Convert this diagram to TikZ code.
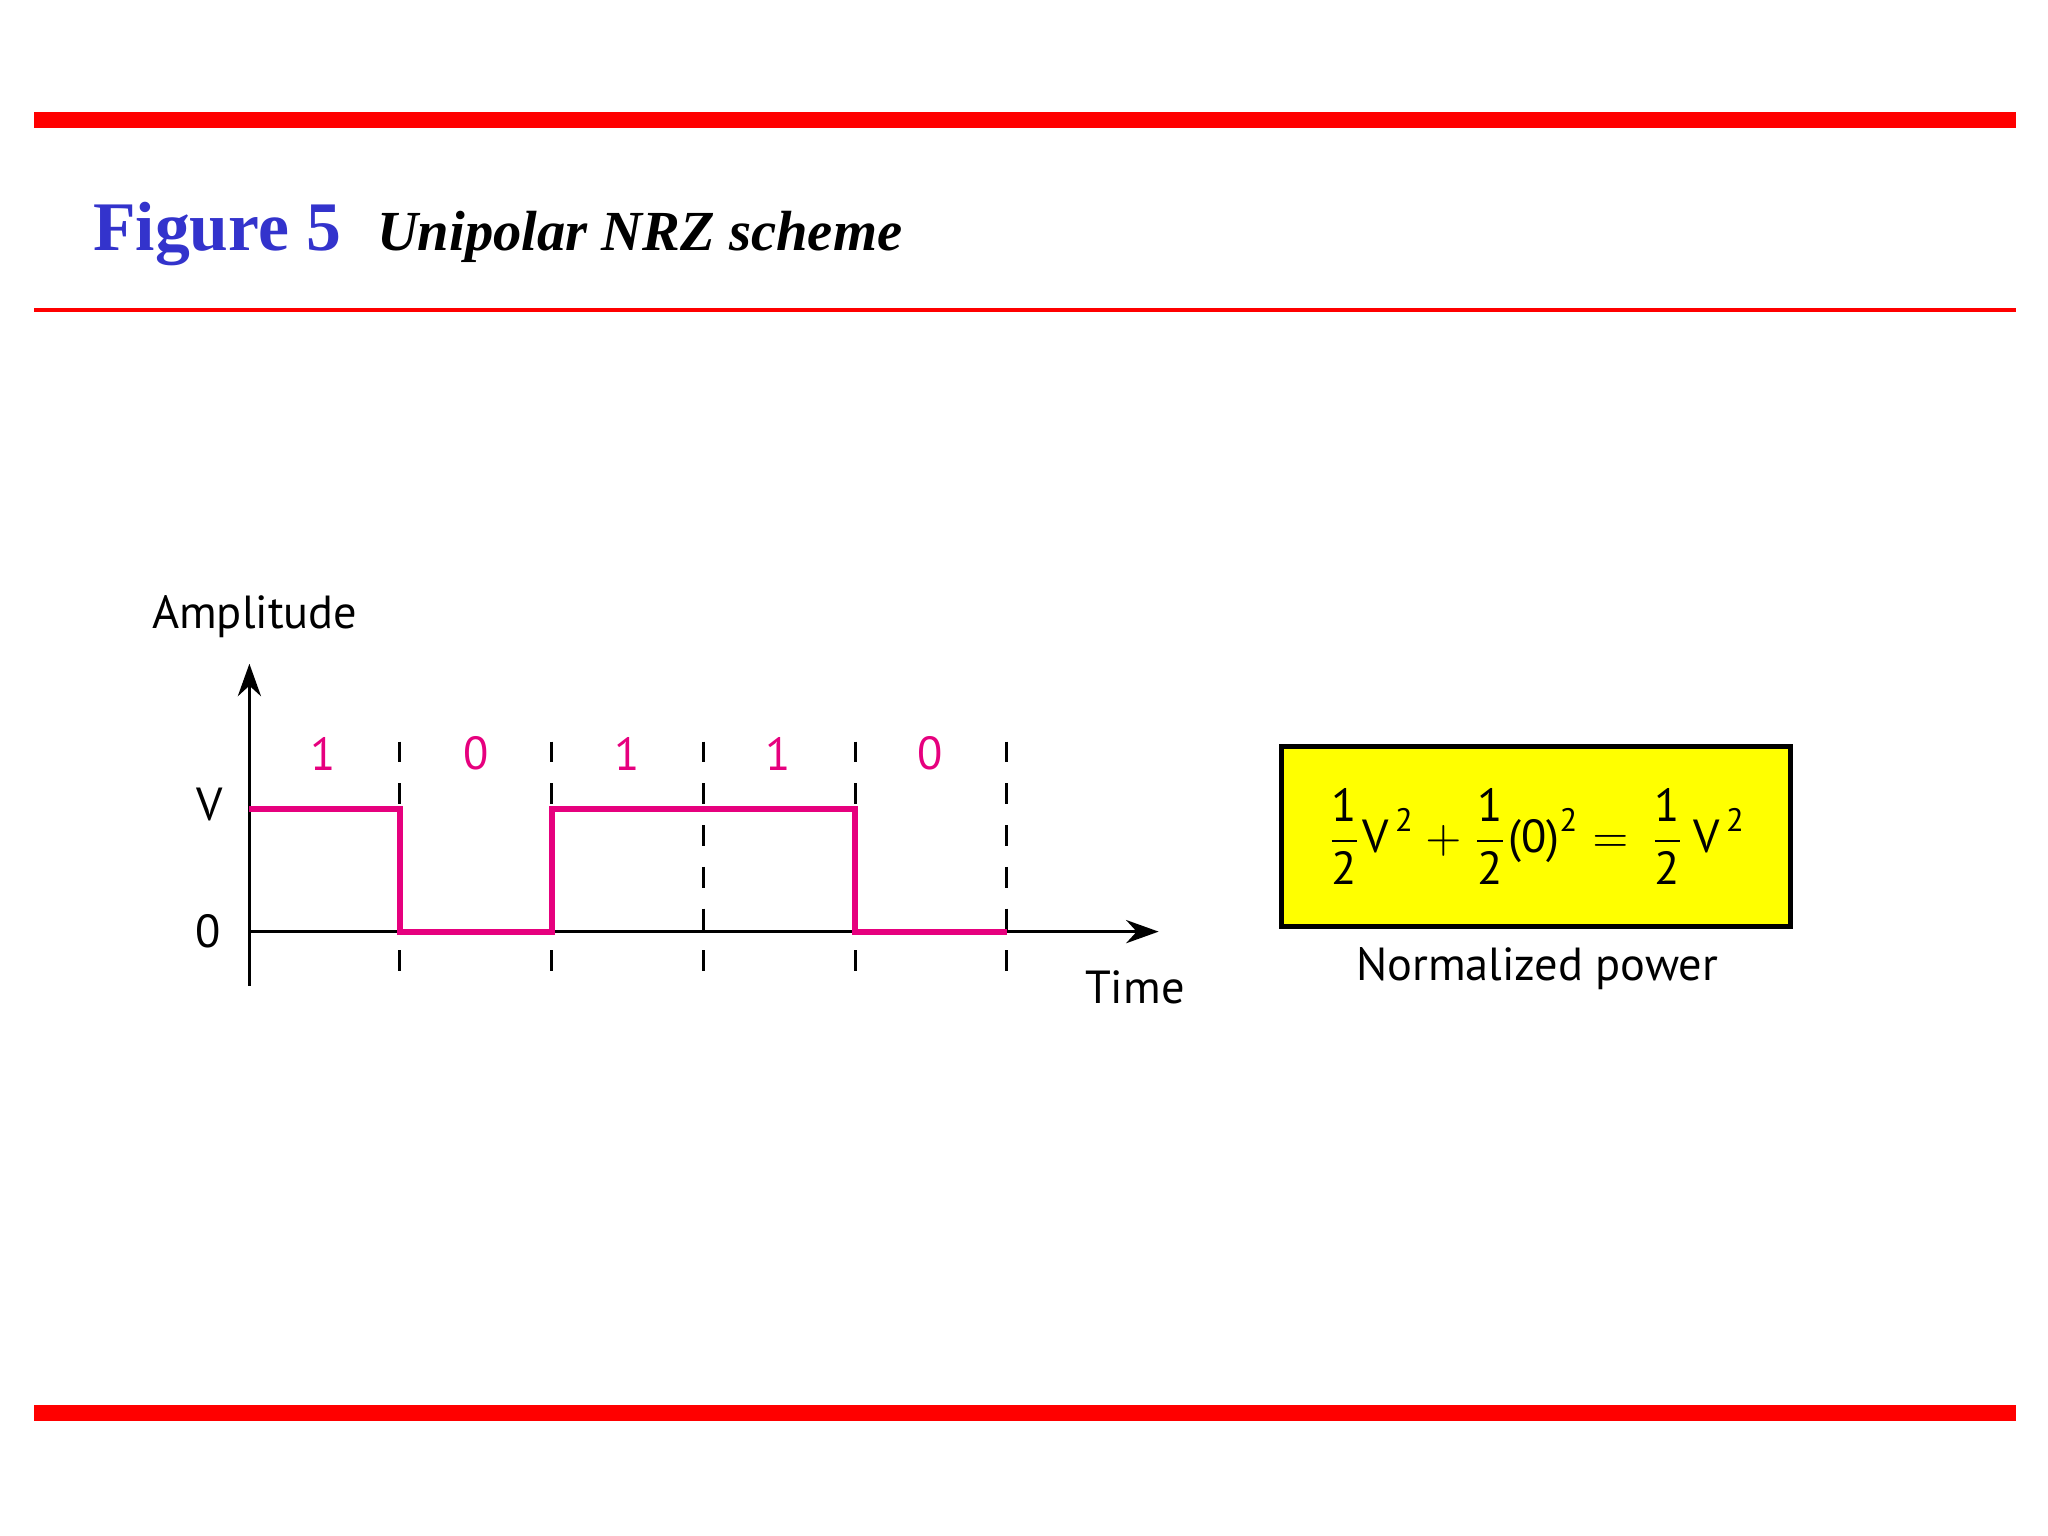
\documentclass[tikz,border=0pt]{standalone}
\usepackage{amsmath}
\usepackage{fontspec}
\setmainfont{PT Sans}
\newfontfamily\tnr{Liberation Serif}
\usetikzlibrary{arrows.meta}
\definecolor{sig}{RGB}{230,0,126}
\definecolor{figblue}{RGB}{51,51,204}
\definecolor{ybox}{RGB}{255,255,0}
\tikzset{x=0.01cm,y=-0.01cm,
 lbl/.style={font=\fontsize{10}{12}\selectfont},
 bit/.style={lbl,text=sig},
 grid/.style={line width=0.6pt,dash pattern=on 4.5pt off 4.5pt},
 ax/.style={line width=0.6pt,-{Stealth[length=7pt,width=5pt]}}}
\begin{document}
\begin{tikzpicture}
\useasboundingbox (0,0) rectangle (1552,1164);
\fill[red] (26,85) rectangle (1528,97);
\fill[red] (26,1065) rectangle (1528,1077);
\fill[red] (26,233.5) rectangle (1528,236.5);
\node[anchor=base west,inner sep=0,text=figblue,font=\tnr\bfseries\fontsize{15}{18}\selectfont] (fig) at (70,190) {Figure 5};
\node[anchor=base west,inner sep=0,font=\tnr\bfseries\itshape\fontsize{12.2}{15}\selectfont] (tit) at (285,190) {Unipolar NRZ scheme};
% axes
\coordinate (yb) at (189,747);
\coordinate (yt) at (189,503);
\coordinate (xl) at (189,706);
\coordinate (xr) at (878,706);
\draw[ax] (yb) -- (yt);
\draw[ax] (xl) -- (xr);
\node[lbl] (amp) at (193,467) {Amplitude};
\node[lbl] (tim) at (860,748) {Time};
\node[lbl] (vl) at (159,610) {V};
\node[lbl] (zl) at (158,706) {0};
\foreach \x/\n in {303/a,418/b,533/c,648/d,763/e}{
 \coordinate (t\n) at (\x,562); \coordinate (b\n) at (\x,745);
 \draw[grid] (t\n) -- (b\n);}
\foreach \x/\b in {245/1,361/0,475/1,590/1,705/0}
 \node[bit] at (\x,571) {\b};
\draw[sig,line width=1.3pt] (189,613) -- (303,613) -- (303,706) -- (418,706) -- (418,613) -- (648,613) -- (648,706) -- (763,706);
% box
\node[draw,line width=1.1pt,fill=ybox,minimum width=3.86cm,minimum height=1.36cm,inner sep=0] (box) at (1164,634) {};
\node[font=\fontsize{10}{12}\selectfont] (eq) at (box.center) {$\dfrac{\text{1}}{\text{2}}\text{V}^{\,\text{2}}+\dfrac{\text{1}}{\text{2}}\text{(0)}^{\text{2}}=\,\dfrac{\text{1}}{\text{2}}\,\text{V}^{\,\text{2}}$};
\node[lbl] (np) at (1165,734) {Normalized power};
\end{tikzpicture}
\end{document}
